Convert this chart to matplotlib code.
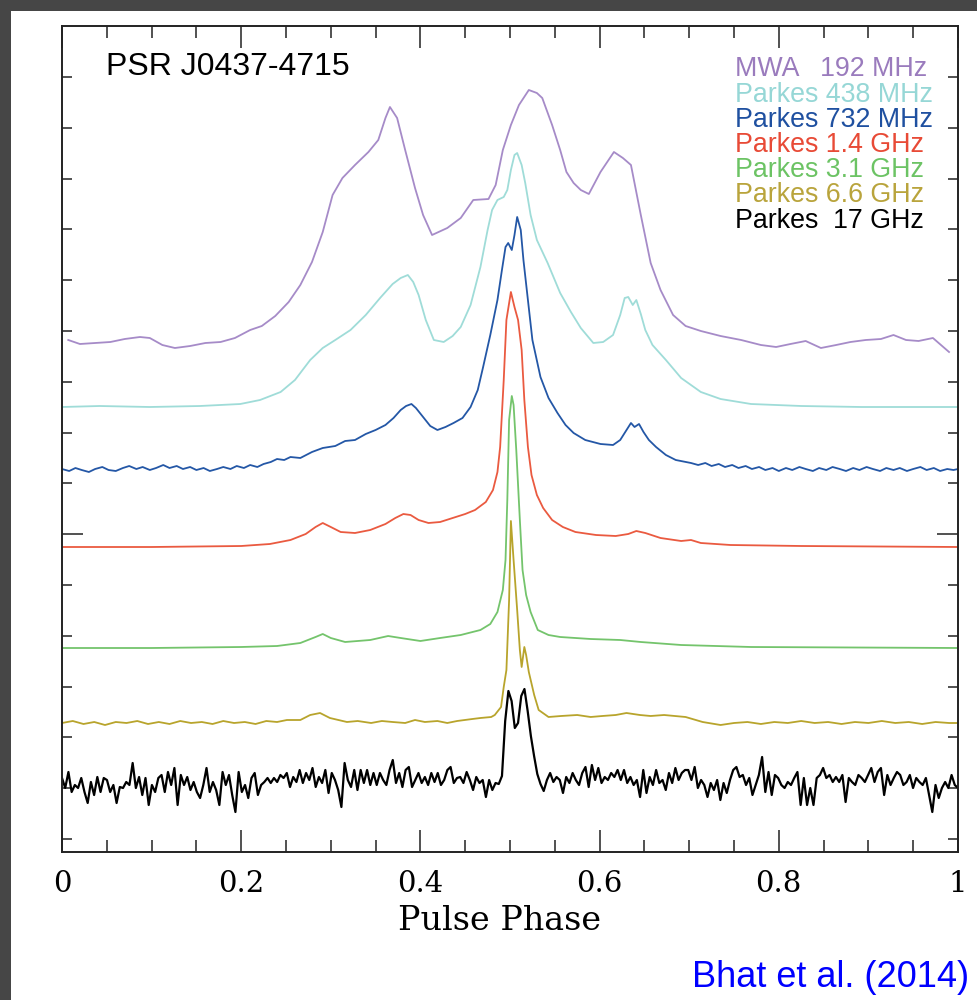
import numpy as np
import matplotlib.pyplot as plt
from matplotlib.patches import Rectangle

# Pulse profiles of PSR J0437-4715 at several frequencies
# intensities are in arbitrary units above each profile's own baseline
mwa_phase = [0.007, 0.020, 0.037, 0.054, 0.070, 0.087, 0.098, 0.112, 0.126, 0.143,
             0.160, 0.177, 0.193, 0.210, 0.223, 0.238, 0.253, 0.266, 0.279, 0.291,
             0.302, 0.313, 0.327, 0.342, 0.353, 0.361, 0.366, 0.374, 0.383, 0.394,
             0.403, 0.413, 0.430, 0.445, 0.459, 0.476, 0.484, 0.492, 0.501, 0.510,
             0.521, 0.530, 0.536, 0.547, 0.556, 0.563, 0.571, 0.579, 0.588, 0.601,
             0.616, 0.626, 0.635, 0.646, 0.657, 0.668, 0.682, 0.696, 0.713, 0.735,
             0.758, 0.780, 0.797, 0.813, 0.830, 0.847, 0.864, 0.880, 0.897, 0.914,
             0.928, 0.942, 0.956, 0.972, 0.990]
mwa_val = [5, 1, 2, 3, 6, 8, 7, 0, -3, -1,
           2, 3, 7, 15, 19, 29, 43, 60, 83, 113,
           150, 167, 180, 193, 205, 227, 238, 227, 195, 157,
           130, 110, 117, 127, 145, 146, 160, 195, 220, 240,
           255, 252, 247, 220, 195, 173, 162, 155, 151, 173,
           193, 187, 180, 130, 82, 55, 30, 19, 14, 9,
           5, 0, -2, 1, 4, -3, 0, 3, 5, 6,
           10, 5, 4, 7, -7]

p438_phase = [0.000, 0.042, 0.098, 0.154, 0.199, 0.221, 0.244, 0.260, 0.277, 0.291,
              0.305, 0.322, 0.339, 0.355, 0.369, 0.378, 0.386, 0.392, 0.398, 0.406,
              0.415, 0.426, 0.436, 0.445, 0.456, 0.467, 0.475, 0.480, 0.486, 0.493,
              0.497, 0.501, 0.505, 0.508, 0.513, 0.517, 0.523, 0.530, 0.542, 0.556,
              0.568, 0.579, 0.593, 0.604, 0.615, 0.623, 0.628, 0.632, 0.637, 0.641,
              0.646, 0.651, 0.659, 0.674, 0.691, 0.713, 0.735, 0.769, 0.825, 0.892,
              1.000]
p438_val = [0, 1, 0, 1, 3, 7, 15, 27, 47, 59,
            67, 77, 92, 109, 123, 129, 132, 125, 112, 87,
            67, 65, 71, 80, 102, 140, 177, 197, 207, 210,
            217, 237, 252, 254, 242, 224, 192, 167, 144, 114,
            95, 79, 64, 65, 72, 92, 109, 110, 102, 107,
            93, 77, 62, 47, 29, 15, 8, 3, 1, 0,
            0]

p732_phase = [0.000, 0.008, 0.015, 0.022, 0.030, 0.037, 0.045, 0.052, 0.060, 0.068,
              0.075, 0.083, 0.090, 0.098, 0.105, 0.113, 0.120, 0.128, 0.135, 0.143,
              0.150, 0.158, 0.165, 0.173, 0.180, 0.188, 0.195, 0.203, 0.210, 0.218,
              0.225, 0.233, 0.240, 0.248, 0.255,
              0.266, 0.279, 0.291, 0.305, 0.316, 0.327, 0.339, 0.350, 0.361, 0.370,
              0.378, 0.384, 0.390, 0.395, 0.403, 0.411, 0.419, 0.428, 0.437, 0.447,
              0.456, 0.464, 0.470, 0.478, 0.486, 0.491, 0.495, 0.498, 0.502, 0.505,
              0.508, 0.512, 0.515, 0.520, 0.525, 0.534, 0.543, 0.553, 0.562, 0.571,
              0.584, 0.601, 0.615, 0.623, 0.630, 0.635, 0.639, 0.644, 0.649, 0.655,
              0.663, 0.674, 0.685, 0.702,
              0.710, 0.718, 0.725, 0.733, 0.740, 0.748, 0.755, 0.763, 0.770, 0.778,
              0.785, 0.793, 0.800, 0.808, 0.815, 0.823, 0.830, 0.838, 0.845, 0.853,
              0.860, 0.868, 0.875, 0.883, 0.890, 0.898, 0.905, 0.913, 0.920, 0.928,
              0.935, 0.943, 0.950, 0.958, 0.965, 0.973, 0.980, 0.988, 0.995, 1.000]
p732_val = [1, -1, 2, 0, -2, 1, 3, 0, -1, 2,
            4, 1, 3, 0, 2, 5, 2, 4, 1, 3,
            0, 2, -1, 1, 3, 1, 4, 2, 5, 3,
            6, 8, 11, 10, 13,
            12, 18, 22, 24, 29, 30, 36, 40, 45, 52,
            60, 64, 66, 62, 53, 44, 40, 43, 47, 52,
            63, 80, 103, 135, 170, 200, 223, 227, 220, 235,
            253, 240, 210, 170, 130, 93, 72, 57, 45, 37,
            30, 26, 25, 30, 40, 47, 43, 46, 38, 30,
            23, 15, 10, 7,
            5, 7, 4, 6, 3, 5, 2, 4, 1, 3,
            0, 2, -1, 2, 0, 3, 1, -1, 2, 0,
            3, 1, -1, 2, 0, 3, 1, -1, 2, 0,
            2, -1, 1, 3, 0, 2, -1, 1, 0, 1]

p1400_phase = [0.000, 0.100, 0.200, 0.232, 0.255, 0.272, 0.283, 0.291, 0.300, 0.311,
               0.327, 0.344, 0.361, 0.372, 0.381, 0.389, 0.398, 0.409, 0.422, 0.436,
               0.450, 0.461, 0.473, 0.481, 0.486, 0.489, 0.493, 0.496, 0.501, 0.505,
               0.509, 0.513, 0.516, 0.520, 0.524, 0.530, 0.537, 0.547, 0.559, 0.573,
               0.596, 0.618, 0.632, 0.641, 0.651, 0.668, 0.691, 0.702, 0.713, 0.746,
               0.825, 1.000]
p1400_val = [0, 0, 1, 3, 7, 13, 20, 24, 20, 15,
             14, 17, 23, 29, 33, 32, 27, 24, 25, 29,
             33, 37, 45, 57, 75, 100, 167, 227, 255, 240,
             227, 197, 147, 100, 72, 52, 39, 27, 20, 15,
             12, 11, 13, 16, 14, 9, 6, 7, 4, 2,
             1, 0]

p3100_phase = [0.000, 0.100, 0.200, 0.240, 0.266, 0.283, 0.291, 0.300, 0.316, 0.344,
               0.364, 0.378, 0.400, 0.422, 0.445, 0.467, 0.478, 0.486, 0.492, 0.495,
               0.497, 0.499, 0.502, 0.504, 0.507, 0.511, 0.514, 0.518, 0.523, 0.531,
               0.543, 0.556, 0.590, 0.623, 0.646, 0.691, 0.769, 1.000]
p3100_val = [0, 0, 1, 2, 5, 11, 14, 10, 6, 8,
             12, 10, 7, 10, 13, 18, 24, 36, 58, 88,
             148, 228, 252, 243, 198, 128, 78, 53, 36, 18,
             13, 11, 9, 8, 6, 3, 1, 0]

p6600_phase = [0.000, 0.012, 0.024, 0.036, 0.048, 0.060, 0.072, 0.084, 0.096, 0.108,
               0.120, 0.132, 0.144, 0.156, 0.168, 0.180, 0.192, 0.204, 0.216, 0.228,
               0.240, 0.251, 0.266, 0.277, 0.288, 0.299, 0.318, 0.330, 0.345, 0.357,
               0.369, 0.383, 0.394, 0.405, 0.419, 0.430, 0.441, 0.458, 0.467, 0.479,
               0.483, 0.490, 0.493, 0.496, 0.499, 0.501, 0.504, 0.508, 0.511, 0.513,
               0.516, 0.518, 0.521, 0.527, 0.532, 0.543, 0.557, 0.575, 0.590, 0.603,
               0.618, 0.630, 0.645, 0.657, 0.672, 0.696, 0.715, 0.735, 0.750, 0.765,
               0.780, 0.795, 0.810, 0.825, 0.840, 0.855, 0.870, 0.885, 0.900, 0.915,
               0.930, 0.945, 0.960, 0.975, 0.990, 1.000]
p6600_val = [0, 2, -1, 1, -2, 1, 0, 2, -1, 1,
             -1, 2, 0, 1, -1, 2, 0, 1, -1, 2,
             1, 3, 3, 8, 10, 5, 1, 2, 0, 2,
             1, 0, 3, 1, 2, 0, 2, 4, 5, 6,
             8, 16, 36, 53, 123, 202, 163, 113, 73, 56,
             76, 68, 51, 28, 13, 6, 7, 8, 6, 7,
             8, 10, 8, 7, 8, 6, 1, -2, 0, 1,
             -1, 1, 0, 2, 0, 1, -1, 1, 0, 2,
             0, 1, -1, 1, 0, 0]

# 17 GHz profile, 280 phase bins across the full rotation
p17_val = [7, -3, 13, -7, 0, -3, 7, -7, -18, 3,
           -10, 8, -7, 7, 5, -7, 0, -18, -2, -3,
           3, 0, 22, -3, 8, -10, 7, -20, 0, -7,
           7, 10, -7, 13, 0, 17, -20, 10, 0, 8,
           -5, 3, -7, -13, 0, 17, -7, 3, -5, -20,
           13, 0, 10, -10, -27, 13, -7, 0, -13, 7,
           12, -10, 0, 3, 7, 2, 7, 3, 10, 7,
           12, -2, 8, 3, 15, 2, 12, 5, 17, -2,
           8, 2, 15, -8, 12, 5, -5, -22, 22, 5,
           -2, 15, -5, 15, 2, 15, 0, 12, 0, 12,
           5, 0, 15, 25, 2, 12, -2, 15, 18, -2,
           5, 12, 2, 8, 0, 12, 3, 12, 0, 5,
           15, 18, 2, 7, 8, 2, 13, 5, -5, 8,
           2, 5, -12, 5, -5, 2,
           1, 9, 64, 94, 84, 57, 62, 89, 96, 74, 49, 29, 11, 1, -6,
           5, 12, 3, 8, 5, -8, 8, 2, 12, 5,
           0, 12, 18, -2, 20, 5, 17, 2, 8, 5,
           12, 8, 15, 5, 15, 2, 8, 0, 5, -12,
           15, -8, 8, 0, 15, 2, 5, -5, 12, 2,
           17, 5, 12, 15, 15, 5, 18, -3, 5, 0,
           -12, 2, -5, 5, -15, 2, -8, 5, 15, 18,
           8,
           10, 0, 7, -10, 0, 10, 28, -7, 13, -10,
           10, 7, 0, -3, 3, 0, 7, 13, -20, 7,
           -20, -3, -20, 7, 10, 17, 7, 10, 3, 8,
           3, 10, -17, 7, 3, 0, 10, 7, 3, 10,
           17, 3, 13, 17, -10, 10, 0, 7, 13, 10,
           0, 3, 10, -3, 7, 3, 0, 7, -10, -27,
           0, -13, -3, 3, -3, 10, 0, -3]
p17_phase = np.linspace(0, 1, len(p17_val))

labels = ['MWA   192 MHz', 'Parkes 438 MHz', 'Parkes 732 MHz', 'Parkes 1.4 GHz',
          'Parkes 3.1 GHz', 'Parkes 6.6 GHz', 'Parkes  17 GHz']
baselines = [507, 445, 382, 305, 204, 129, 67]
line_colors = ['#a68bc8', '#9fdcd8', '#2457a6', '#ea5a40', '#74c46c', '#b8a42c', '#000000']
text_colors = ['#9a7bbd', '#96d7d6', '#1f50a0', '#e84a36', '#6cc364', '#b9a43c', '#000000']

profiles = [(mwa_phase, mwa_val), (p438_phase, p438_val), (p732_phase, p732_val),
            (p1400_phase, p1400_val), (p3100_phase, p3100_val),
            (p6600_phase, p6600_val), (p17_phase, p17_val)]

fig = plt.figure(figsize=(9.78, 10), dpi=100, facecolor='#464646')
fig.patches.append(Rectangle((11 / 978, 0), 1, 989 / 1000, transform=fig.transFigure,
                             facecolor='white', edgecolor='none', zorder=-10))

ax = fig.add_axes([62 / 978, 148 / 1000, 896 / 978, 826 / 1000], zorder=2)
ax.set_facecolor('white')
for (ph, val), base, col in zip(profiles, baselines, line_colors):
    lw = 1.6 if col == '#000000' else 1.3
    ax.plot(ph, base + np.array(val), color=col, lw=lw)

ax.set_xlim(0, 1)
ax.set_ylim(0, 826)

# ticks inside on all four sides
ax.set_xticks([0, 0.2, 0.4, 0.6, 0.8, 1.0])
ax.set_xticklabels(['0', '0.2', '0.4', '0.6', '0.8', '1'],
                   family='DejaVu Serif', fontsize=21)
ax.set_xticks(np.arange(0, 1.001, 0.05), minor=True)
ax.set_yticks([317.8])
ax.set_yticks(775 - 50.8 * np.arange(16), minor=True)
ax.set_yticklabels([])
ax.tick_params(which='both', direction='in', top=True, right=True, width=1.1, color='#222222')
ax.tick_params(axis='x', which='major', length=16, pad=13)
ax.tick_params(axis='x', which='minor', length=8.6)
ax.tick_params(axis='y', which='major', length=15)
ax.tick_params(axis='y', which='minor', length=7.5)
for sp in ax.spines.values():
    sp.set_linewidth(1.4)
    sp.set_color('#222222')

fig.text(500 / 978, 1 - 930 / 1000, 'Pulse Phase', ha='center', va='baseline',
         family='DejaVu Serif', fontsize=24)
fig.text(106 / 978, 1 - 75 / 1000, 'PSR J0437-4715', ha='left', va='baseline',
         family='Liberation Sans', fontsize=23)

legend_y = [76, 101.5, 127, 152, 177, 202, 228]
for lab, c, yb in zip(labels, text_colors, legend_y):
    fig.text(735 / 978, 1 - yb / 1000, lab, color=c, ha='left', va='baseline',
             family='Liberation Sans', fontsize=19.3)

fig.text(692 / 978, 1 - 987 / 1000, 'Bhat et al. (2014)', color='#0000ff', ha='left',
         va='baseline', family='Liberation Sans', fontsize=26)

fig.savefig('out.png', dpi=100, facecolor=fig.get_facecolor())
